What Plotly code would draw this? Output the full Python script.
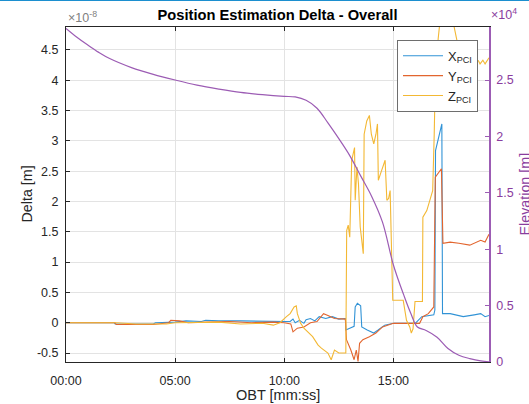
import plotly.graph_objects as go

# Time axis in minutes since start of pass (OBT)
tick_vals_t = [0, 5, 10, 15]
tick_text_t = ["00:00", "05:00", "10:00", "15:00"]

# X component of the position delta (units of 1e-8 m)
t_x = [0, 2.2, 2.25, 4.0, 4.1, 5.0, 5.5, 6.2, 6.4, 7.0, 8.0, 9.0, 9.8, 10.1, 10.27, 10.4,
       10.5, 10.7, 10.9, 11.0, 11.2, 11.4, 11.6, 11.9, 12.2, 12.5, 12.8, 12.82, 13.0, 13.2,
       13.25, 13.35, 13.5, 13.55, 13.8, 14.1, 14.3, 14.6, 15.0, 16.0, 16.3, 16.85, 16.9,
       16.93, 17.22, 17.25, 17.6, 18.2, 18.7, 19.0, 19.2, 19.38]
x_delta = [0, 0, -0.02, -0.02, 0.0, 0.01, 0.03, 0.02, 0.04, 0.03, 0.03, 0.02, 0.02, 0.02,
           0.02, 0.06, 0.0, 0.04, -0.01, 0.05, 0.07, 0.03, 0.10, 0.07, 0.10, 0.06, 0.07,
           -0.12, -0.09, -0.06, 0.26, 0.32, 0.28, -0.07, -0.12, -0.17, -0.12, -0.04, -0.01,
           -0.01, 0.10, 0.13, 0.21, 2.84, 3.28, 0.15, 0.15, 0.10, 0.13, 0.15, 0.10, 0.12]

# Y component of the position delta (units of 1e-8 m)
t_y = [0, 2.25, 2.3, 4.0, 4.7, 4.8, 5.2, 5.6, 6.5, 7.5, 8.5, 9.5, 10.0, 10.3, 10.4, 10.6,
       10.9, 11.2, 11.5, 11.8, 12.0, 12.3, 12.8, 12.85, 13.05, 13.2, 13.3, 13.38, 13.45,
       13.6, 13.9, 14.2, 14.5, 15.0, 16.2, 16.35, 16.6, 16.85, 16.92, 17.2, 17.27, 17.6,
       18.0, 18.5, 19.0, 19.2, 19.38]
y_delta = [0, 0, -0.03, -0.03, 0.0, 0.04, 0.03, 0.0, 0.01, 0.02, 0.0, 0.01, 0.0, -0.02,
           -0.15, -0.09, -0.07, 0.0, 0.02, 0.15, 0.12, 0.07, 0.06, -0.28, -0.45, -0.61,
           -0.45, -0.64, -0.34, -0.28, -0.23, -0.17, -0.07, -0.01, -0.01, 0.10, 0.15, 0.26,
           2.40, 2.54, 1.31, 1.33, 1.31, 1.28, 1.36, 1.33, 1.46]

# Z component of the position delta (units of 1e-8 m)
t_z = [0, 2.3, 3.2, 4.6, 5.0, 6.0, 7.0, 8.0, 9.0, 9.5, 9.8, 10.1, 10.27, 10.45, 10.55,
       10.6, 10.75, 10.9, 11.3, 11.55, 11.7, 12.0, 12.15, 12.3, 12.5, 12.82, 12.86, 12.93,
       13.0, 13.09, 13.17, 13.22, 13.25, 13.33, 13.4, 13.48, 13.55, 13.62, 13.66, 13.78,
       13.9, 13.99, 14.1, 14.2, 14.27, 14.31, 14.45, 14.62, 14.7, 14.78, 14.85, 14.97,
       15.45, 15.6, 15.75, 15.82, 15.9, 15.99, 16.33, 16.35, 16.53, 16.68, 16.8, 16.87,
       16.9, 17.05, 17.2, 17.6, 18.0, 18.5, 18.9, 18.97, 19.1, 19.2, 19.3, 19.38]
z_delta = [0, 0, -0.02, -0.02, 0.0, 0.0, 0.01, -0.02, -0.01, -0.04, 0.0, 0.10, 0.15, 0.26,
           0.28, 0.15, -0.01, -0.09, -0.23, -0.37, -0.42, -0.50, -0.61, -0.45, -0.50, -0.50,
           1.52, 1.61, 1.41, 2.68, 2.84, 2.89, 2.02, 2.57, 2.29, 1.58, 1.36, 1.14, 3.11,
           3.33, 3.42, 3.11, 2.95, 3.11, 3.28, 2.35, 2.50, 2.68, 2.02, 2.05, 2.18, 0.37,
           0.37, 0.04, -0.07, -0.17, -0.10, 0.35, 0.35, 1.74, 1.85, 2.02, 2.18, 3.11, 3.66,
           4.68, 5.20, 5.20, 4.50, 4.40, 4.32, 4.27, 4.33, 4.27, 4.32, 4.37]

# Elevation of the spacecraft (m)
t_elev = [0, 0.5, 1, 1.5, 2, 3, 4, 5, 6, 7, 8, 9, 10, 10.5, 11, 11.5, 12, 12.5, 13, 13.5,
          14, 14.5, 15, 15.5, 15.8, 16.1, 16.5, 17, 17.5, 18, 18.5, 19, 19.38]
elev_m = [29580, 28800, 28100, 27450, 26900, 26100, 25500, 25000, 24550, 24200, 23900,
          23700, 23550, 23500, 23200, 22500, 21200, 19800, 18300, 16500, 14700, 12400,
          8600, 5800, 4300, 3100, 2800, 2200, 1200, 600, 300, 100, 20]

BLUE = "#3193d6"
ORANGE = "#e2652e"
YELLOW = "#f3b834"
PURPLE = "#9c5cb4"
PURPLE_TXT = "#8a3d9e"
AX = "#262626"
GRID = "#e3e3e3"
FONT = "Liberation Sans, Arial, sans-serif"

fig = go.Figure()

fig.add_trace(go.Scatter(x=t_x, y=x_delta, mode="lines", name="X<sub>PCI</sub>",
                         line=dict(color=BLUE, width=1.1)))
fig.add_trace(go.Scatter(x=t_y, y=y_delta, mode="lines", name="Y<sub>PCI</sub>",
                         line=dict(color=ORANGE, width=1.1)))
fig.add_trace(go.Scatter(x=t_z, y=z_delta, mode="lines", name="Z<sub>PCI</sub>",
                         line=dict(color=YELLOW, width=1.1)))
fig.add_trace(go.Scatter(x=t_elev, y=[e / 1e4 for e in elev_m], mode="lines",
                         yaxis="y2", showlegend=False,
                         line=dict(color=PURPLE, width=1.2, shape="spline")))

left_ticks = [-0.5, 0, 0.5, 1, 1.5, 2, 2.5, 3, 3.5, 4, 4.5]
left_text = ["-0.5", "0", "0.5", "1", "1.5", "2", "2.5", "3", "3.5", "4", "4.5"]
right_ticks = [0, 0.5, 1, 1.5, 2, 2.5]
right_text = ["0", "0.5", "1", "1.5", "2", "2.5"]

fig.update_layout(
    width=529, height=404,
    margin=dict(l=66, r=40, t=27, b=42, autoexpand=False),
    paper_bgcolor="white", plot_bgcolor="white",
    font=dict(family=FONT, size=12.5, color=AX),
    title=dict(text="<b>Position Estimation Delta - Overall</b>", xref="paper", x=0.5,
               xanchor="center", yref="container", y=0.963, yanchor="middle",
               font=dict(size=14.7, color="black")),
    xaxis=dict(range=[0, 19.38], tickvals=tick_vals_t, ticktext=tick_text_t,
               showgrid=True, gridcolor=GRID, gridwidth=1, zeroline=False,
               showline=True, linecolor=AX, linewidth=1, mirror="ticks",
               ticks="inside", ticklen=4, tickcolor=AX, ticklabelstandoff=7,
               automargin=False),
    yaxis=dict(range=[-0.648, 4.879], tickvals=left_ticks, ticktext=left_text,
               showgrid=True, gridcolor=GRID, gridwidth=1, zeroline=False,
               showline=True, linecolor=AX, linewidth=1,
               ticks="inside", ticklen=4, tickcolor=AX, ticklabelstandoff=4,
               automargin=False),
    yaxis2=dict(range=[0, 2.97], overlaying="y", side="right", anchor="x",
                tickvals=right_ticks, ticktext=right_text, showgrid=False, zeroline=False,
                showline=True, linecolor=PURPLE, linewidth=1.5,
                ticks="inside", ticklen=4, tickcolor=PURPLE, ticklabelstandoff=3,
                tickfont=dict(color=PURPLE_TXT), automargin=False),
    legend=dict(x=0.974, xanchor="right", y=0.962, yanchor="top",
                bgcolor="white", bordercolor="#6e6e6e", borderwidth=1,
                font=dict(size=13, color=AX), itemwidth=40, tracegroupgap=0),
    showlegend=True,
)

# Axis titles
fig.add_annotation(text="OBT [mm:ss]", xref="paper", yref="paper", x=0.5, y=0,
                   yshift=-33, xanchor="center", yanchor="middle", showarrow=False,
                   font=dict(size=14.5, color=AX))
fig.add_annotation(text="Delta [m]", xref="paper", yref="paper", x=0, y=0.5,
                   xshift=-40, xanchor="center", yanchor="middle", textangle=-90,
                   showarrow=False, font=dict(size=14.3, color=AX))
fig.add_annotation(text="Elevation [m]", xref="paper", yref="paper", x=1, y=0.5,
                   xshift=35, xanchor="center", yanchor="middle", textangle=-90,
                   showarrow=False, font=dict(size=14.3, color=PURPLE_TXT))

# Axis exponent multipliers
fig.add_annotation(text="×10<sup>-8</sup>", xref="paper", yref="paper", x=0.0, y=1.0,
                   xanchor="left", yanchor="bottom", showarrow=False, yshift=0,
                   font=dict(size=12.5, color="#808080"))
fig.add_annotation(text="×10<sup>4</sup>", xref="paper", yref="paper", x=1.0, y=1.0,
                   xanchor="left", yanchor="bottom", showarrow=False, yshift=3,
                   font=dict(size=12.5, color=PURPLE_TXT))

# Thin window-frame rule across the very top
fig.add_shape(type="line", xref="paper", yref="paper", x0=-0.2, x1=1.2,
              y0=1 + 27 / 335, y1=1 + 27 / 335, line=dict(color="#1c8fcf", width=2))

fig.write_html("out.html")
